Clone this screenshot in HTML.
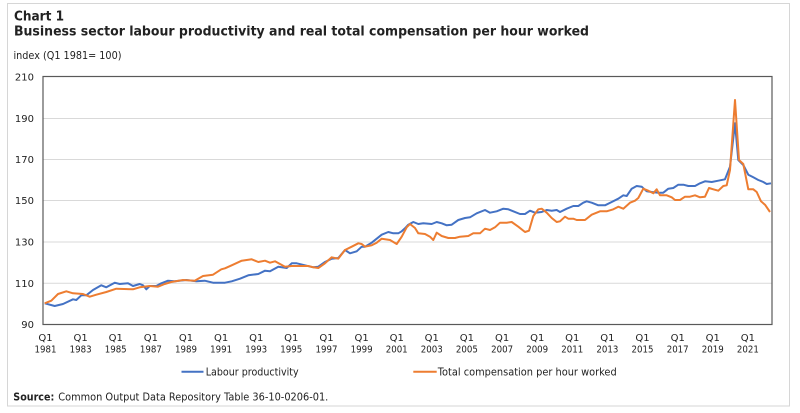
<!DOCTYPE html>
<html>
<head>
<meta charset="utf-8">
<style>
html,body{margin:0;padding:0;background:#fff;}
svg{display:block;}
text{font-family:"DejaVu Sans","Liberation Sans",sans-serif;fill:#222;}
</style>
</head>
<body>
<svg width="800" height="413" viewBox="0 0 800 413" xmlns="http://www.w3.org/2000/svg">
<rect x="0" y="0" width="800" height="413" fill="#fff"/>
<rect x="7.5" y="3.5" width="782" height="402.5" fill="#fff" stroke="#d6d6d6" stroke-width="1"/>

<text x="14" y="20.5" font-size="13" font-weight="bold" textLength="50" lengthAdjust="spacingAndGlyphs">Chart 1</text>
<text x="14" y="35.5" font-size="13" font-weight="bold" textLength="575" lengthAdjust="spacingAndGlyphs">Business sector labour productivity and real total compensation per hour worked</text>
<text x="13.5" y="59" font-size="10.5" textLength="108" lengthAdjust="spacingAndGlyphs">index (Q1 1981= 100)</text>

<!-- gridlines -->
<g stroke="#d9d9d9" stroke-width="1">
<line x1="43" y1="118.5" x2="772" y2="118.5"/>
<line x1="43" y1="159.5" x2="772" y2="159.5"/>
<line x1="43" y1="200.5" x2="772" y2="200.5"/>
<line x1="43" y1="242" x2="772" y2="242"/>
<line x1="43" y1="283.3" x2="772" y2="283.3"/>
</g>

<!-- y labels -->
<g font-size="10" text-anchor="end">
<text x="34" y="80.5">210</text>
<text x="34" y="121.8">190</text>
<text x="34" y="163">170</text>
<text x="34" y="204.2">150</text>
<text x="34" y="245.5">130</text>
<text x="34" y="286.8">110</text>
<text x="34" y="328">90</text>
</g>

<!-- series -->
<polyline fill="none" stroke="#4472C4" stroke-width="2" stroke-linejoin="round" points="44.7,303.3 54.7,306 63,304 73,299.3 76.3,300 81.3,295.3 86.3,295.3 93,290 101.3,285.3 106.3,287.3 114.7,282.7 119.7,284 128,283.3 133,286 139.7,284 143,285.3 146.3,289.3 149.7,286 156.3,286 161.3,283.3 168,280.7 174.7,281.3 186.3,280 196.3,281.3 204.7,280.7 213,282.7 223,282.7 225,282.7 231.7,281.3 240,278.7 248.3,275.3 258.3,274 265,270.7 270,271.3 278.3,266.7 286.7,268 291.7,263.3 296.7,263.3 305,265.3 313.3,267.3 318.3,266.7 325,262 331.7,258.7 338.3,258 345,250 350,253.3 356.7,251.3 361.7,246.7 365,246.7 371.7,242.7 376.7,238.7 381.7,234.7 388.3,232 393.3,233.3 398.3,233.3 401.7,231.3 405,228.3 408.3,224.7 413.3,222 418.3,224 423.3,223.3 431.7,224 436.7,222 441.7,223.3 446.7,225.3 451.7,224.7 458.3,220 465,218 470,217.3 476.7,213.3 485,210 490,212.7 496.7,211.3 503.3,208.7 508.3,209.3 513.3,211.3 520,214 525,214 530,210.7 535,212.7 541.7,212 546.7,210 551.7,210.7 556.7,210 560,212 566.7,208.7 573.3,206 578.3,206 583.3,202.7 586.7,201.3 591.7,202.7 598.3,205.3 605,205.3 611.7,202 618.3,198.7 623.3,195.3 626.7,196 631.7,188.7 636.7,186 641.7,186.7 646.7,191.3 651.7,192 658.3,192.7 663.3,192.7 668.3,188.7 673.3,188 678.3,184.7 683.3,184.7 688.3,186 695,186 700,183.3 705,181.3 711.7,182 718.3,180.7 725,179.3 730,166.7 735,123.3 738.3,160 743.3,165 748.3,174.7 753.3,177.3 758.3,180 763.3,182 766.7,184 771,183.3"/>
<polyline fill="none" stroke="#ED7D31" stroke-width="2" stroke-linejoin="round" points="44.7,303.3 51.3,300.7 58,294 66.3,291.3 73,293.3 83,294 89.7,296.7 96.3,294.7 106.3,292 116.3,288.7 133,289.3 139.7,287.3 149.7,286 158,286.7 164.7,284 171.3,282 183,280 194.7,280.7 203,276 213,274.7 221.3,269.3 225,268.3 231.7,265.3 241.7,260.7 246.7,260 251.7,259.3 258.3,262 265,260.7 270,262.7 275,261.3 280,264 285,266.7 291.7,266 298.3,266 308.3,266 313.3,267.3 318.3,268 325,263.3 331.7,257.3 338.3,258.7 345,250 351.7,246.7 358.3,243.3 361.7,244 365,246.7 371.7,245.3 376.7,242.7 381.7,238.7 390,240 396.7,244 401.7,236.7 406.7,227.3 410,224 415,228 418.3,233.3 425,234 430,236.7 433.3,240 436.7,232.7 441.7,236 448.3,238 455,238 460,236.7 468.3,236 473.3,233.3 480,233.3 485,228.7 490,230 495,227.3 500,222.7 506.7,222.7 511.7,222 518.3,226.7 525,232 529,230.7 533.3,216 538.3,209.3 541.7,208.7 546.7,212.7 551.7,218 556.7,222 560,221.3 565,216.7 568.3,218.7 573.3,218.7 576.7,220 581.7,220 585,220 591.7,214.7 600,211.3 606.7,211.3 613.3,209.3 618.3,206.7 623.3,208.7 630,202.7 635,200.7 638.3,198 643.3,188.7 648.3,190.7 653.3,193.3 656.7,189.3 660,195.3 666.7,195.3 671.7,197.3 675,200 680,200 685,196.7 690,196.7 695,195.3 700,197.3 705,196.7 709,188 713.3,189.3 718.3,190.7 723.3,186 726.7,185.3 730,170 735,100 739,160 743.3,164 748.3,189.3 753.3,189.3 756.7,192 761,201.3 765,204.7 770,212"/>

<!-- frame -->
<rect x="43" y="76.5" width="729" height="248" fill="none" stroke="#595959" stroke-width="1.2"/>

<!-- x labels -->
<g font-size="10" text-anchor="middle">
<text x="45.5" y="341">Q1</text><text x="45.5" y="352.7" textLength="22" lengthAdjust="spacingAndGlyphs">1981</text>
<text x="80.6" y="341">Q1</text><text x="80.6" y="352.7" textLength="22" lengthAdjust="spacingAndGlyphs">1983</text>
<text x="115.7" y="341">Q1</text><text x="115.7" y="352.7" textLength="22" lengthAdjust="spacingAndGlyphs">1985</text>
<text x="150.9" y="341">Q1</text><text x="150.9" y="352.7" textLength="22" lengthAdjust="spacingAndGlyphs">1987</text>
<text x="186" y="341">Q1</text><text x="186" y="352.7" textLength="22" lengthAdjust="spacingAndGlyphs">1989</text>
<text x="221.1" y="341">Q1</text><text x="221.1" y="352.7" textLength="22" lengthAdjust="spacingAndGlyphs">1991</text>
<text x="256.2" y="341">Q1</text><text x="256.2" y="352.7" textLength="22" lengthAdjust="spacingAndGlyphs">1993</text>
<text x="291.3" y="341">Q1</text><text x="291.3" y="352.7" textLength="22" lengthAdjust="spacingAndGlyphs">1995</text>
<text x="326.5" y="341">Q1</text><text x="326.5" y="352.7" textLength="22" lengthAdjust="spacingAndGlyphs">1997</text>
<text x="361.6" y="341">Q1</text><text x="361.6" y="352.7" textLength="22" lengthAdjust="spacingAndGlyphs">1999</text>
<text x="396.7" y="341">Q1</text><text x="396.7" y="352.7" textLength="22" lengthAdjust="spacingAndGlyphs">2001</text>
<text x="431.8" y="341">Q1</text><text x="431.8" y="352.7" textLength="22" lengthAdjust="spacingAndGlyphs">2003</text>
<text x="466.9" y="341">Q1</text><text x="466.9" y="352.7" textLength="22" lengthAdjust="spacingAndGlyphs">2005</text>
<text x="502.1" y="341">Q1</text><text x="502.1" y="352.7" textLength="22" lengthAdjust="spacingAndGlyphs">2007</text>
<text x="537.2" y="341">Q1</text><text x="537.2" y="352.7" textLength="22" lengthAdjust="spacingAndGlyphs">2009</text>
<text x="572.3" y="341">Q1</text><text x="572.3" y="352.7" textLength="22" lengthAdjust="spacingAndGlyphs">2011</text>
<text x="607.4" y="341">Q1</text><text x="607.4" y="352.7" textLength="22" lengthAdjust="spacingAndGlyphs">2013</text>
<text x="642.5" y="341">Q1</text><text x="642.5" y="352.7" textLength="22" lengthAdjust="spacingAndGlyphs">2015</text>
<text x="677.7" y="341">Q1</text><text x="677.7" y="352.7" textLength="22" lengthAdjust="spacingAndGlyphs">2017</text>
<text x="712.8" y="341">Q1</text><text x="712.8" y="352.7" textLength="22" lengthAdjust="spacingAndGlyphs">2019</text>
<text x="747.9" y="341">Q1</text><text x="747.9" y="352.7" textLength="22" lengthAdjust="spacingAndGlyphs">2021</text>
</g>

<!-- legend -->
<line x1="181.5" y1="371.7" x2="203.5" y2="371.7" stroke="#4472C4" stroke-width="2"/>
<text x="205.7" y="375.5" font-size="10.5" textLength="93" lengthAdjust="spacingAndGlyphs">Labour productivity</text>
<line x1="413.3" y1="371.7" x2="436.7" y2="371.7" stroke="#ED7D31" stroke-width="2"/>
<text x="437.7" y="375.5" font-size="10.5" textLength="179" lengthAdjust="spacingAndGlyphs">Total compensation per hour worked</text>

<!-- source -->
<text x="13.3" y="400.5" font-size="10.5" font-weight="bold" textLength="41" lengthAdjust="spacingAndGlyphs">Source:</text>
<text x="58.3" y="400.5" font-size="10.5" textLength="270" lengthAdjust="spacingAndGlyphs">Common Output Data Repository Table 36-10-0206-01.</text>
</svg>
</body>
</html>
